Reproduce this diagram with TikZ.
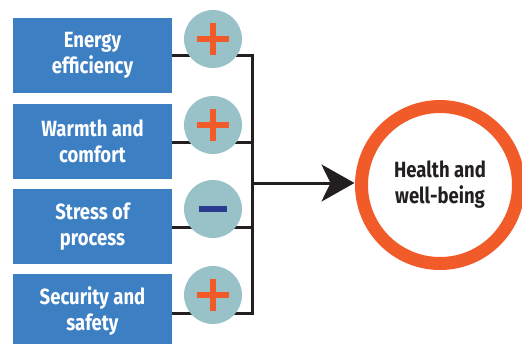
\documentclass[tikz,border=0pt]{standalone}
\usepackage{fontspec}
\usepackage{tikz}
\usetikzlibrary{arrows.meta}
\newfontfamily\labelfont{Fira Sans}[FakeStretch=0.84]
\definecolor{boxblue}{HTML}{3D7FC3}
\definecolor{signgrey}{HTML}{98C2C8}
\definecolor{signorange}{HTML}{F15A29}
\definecolor{signblue}{HTML}{283B8E}
\definecolor{linedark}{HTML}{231F20}

\begin{document}
\begin{tikzpicture}[x=1pt,y=-1pt]
  \tikzset{FactorStyle/.style = {
    shape         = rectangle,
    draw          = none,
    fill          = boxblue,
    text          = white,
    align         = center,
    font          = \labelfont\bfseries\fontsize{22}{26}\selectfont,
    inner sep     = 0pt,
    outer sep     = 0pt,
    minimum width = 159pt,
    minimum height= 75pt
    }
  }
  \tikzset{SignStyle/.style = {
    shape         = circle,
    draw          = none,
    fill          = signgrey,
    inner sep     = 0pt,
    outer sep     = 0pt,
    minimum size  = 58pt
    }
  }
  \tikzset{LinkStyle/.style = {
    draw          = linedark,
    line width    = 3pt
    }
  }
  \tikzset{PlusStyle/.style = {
    draw          = signorange,
    line width    = 6pt
    }
  }
  \tikzset{MinusStyle/.style = {
    draw          = signblue,
    line width    = 6.5pt
    }
  }
  \tikzset{OutcomeStyle/.style = {
    shape         = circle,
    draw          = signorange,
    line width    = 13pt,
    fill          = white,
    text          = linedark,
    align         = center,
    font          = \labelfont\bfseries\fontsize{22}{26}\selectfont,
    inner sep     = 0pt,
    outer sep     = 0pt,
    minimum size  = 157pt
    }
  }

  \useasboundingbox (0,0) rectangle (522,343);

	\node[FactorStyle](F1) at (92.5, 55.5) {Energy\\efficiency};
	\node[FactorStyle](F2) at (92.5, 141.5) {Warmth and\\comfort};
	\node[FactorStyle](F3) at (92.5, 226.5) {Stress of\\process};
	\node[FactorStyle](F4) at (92.5, 311.5) {Security and\\safety};
	\coordinate (J1) at (252, 55);
	\coordinate (J2) at (252, 142);
	\coordinate (J3) at (252, 227);
	\coordinate (J4) at (252, 313);
	\coordinate (M) at (252, 183);
	\node[OutcomeStyle](H) at (440, 185) {Health and\\well-being};
	\draw[LinkStyle](F1.east |- J1) to (J1);
	\draw[LinkStyle](F2.east |- J2) to (J2);
	\draw[LinkStyle](F3.east |- J3) to (J3);
	\draw[LinkStyle](F4.east |- J4) to (J4);
	\draw[LinkStyle, line cap=rect](J1) to (J4);
	\draw[LinkStyle, -{Stealth[length=33pt, width=37pt, inset=9pt]}, shorten >=7pt](M) to (H.west |- M);
	\node[SignStyle](S1) at (213, 39) {};
	\node[SignStyle](S2) at (213, 125) {};
	\node[SignStyle](S3) at (213, 209) {};
	\node[SignStyle](S4) at (213, 295) {};
	\draw[PlusStyle](S1.center) ++(-16,0) -- ++(32,0) (S1.center) ++(0,-16) -- ++(0,32);
	\draw[PlusStyle](S2.center) ++(-16,0) -- ++(32,0) (S2.center) ++(0,-16) -- ++(0,32);
	\draw[MinusStyle](S3.center) ++(-14,0) -- ++(28,0);
	\draw[PlusStyle](S4.center) ++(-16,0) -- ++(32,0) (S4.center) ++(0,-16) -- ++(0,32);

  \end{tikzpicture}
\end{document}
